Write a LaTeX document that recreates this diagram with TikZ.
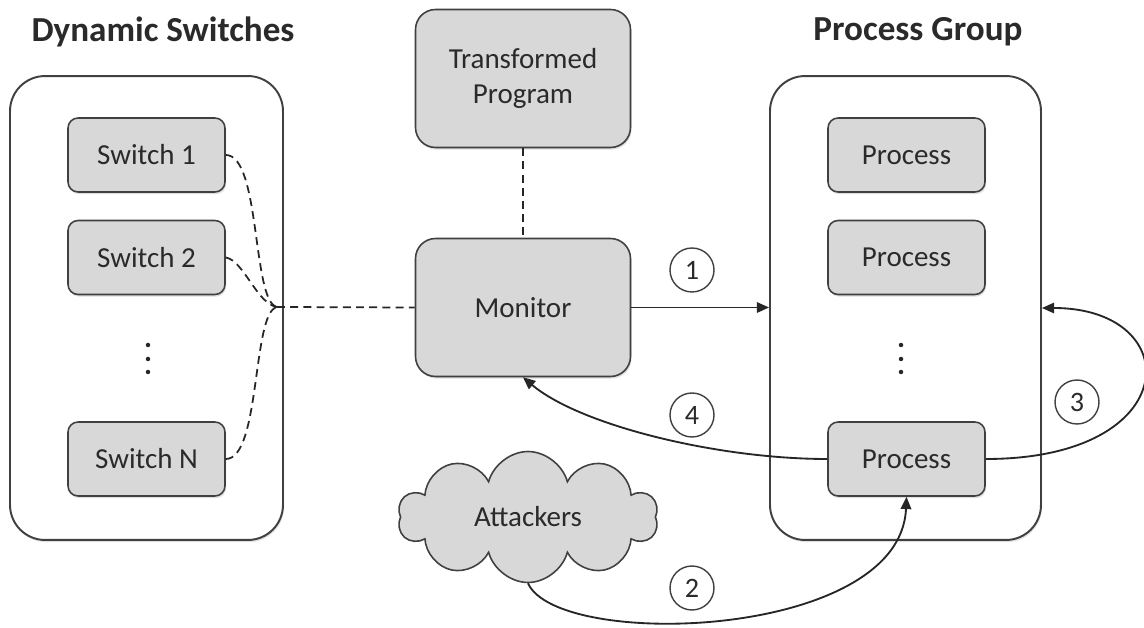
\documentclass[tikz,border=0pt]{standalone}
\usepackage{fontspec}
\setmainfont{Carlito}
\usepackage{xcolor}
\usetikzlibrary{arrows.meta,shapes.symbols,shadows}

\definecolor{liniengrau}{HTML}{404040}
\definecolor{kastengrau}{HTML}{D8D8D8}
\definecolor{textgrau}{HTML}{2A2A2A}

\begin{document}
\begin{tikzpicture}[
  x=0.02cm, y=-0.02cm,
  schatten/.style={
    drop shadow={shadow xshift=0.6pt, shadow yshift=-1.2pt, opacity=0.25}
  },
  gruppe/.style={
    draw=liniengrau, line width=1.1pt, fill=white, rounded corners=0.7cm,
    minimum width=5.46cm, minimum height=9.28cm, schatten
  },
  kasten/.style={
    draw=liniengrau, line width=0.9pt, fill=kastengrau, rounded corners=0.2cm,
    minimum width=3.14cm, minimum height=1.48cm, text=textgrau,
    font=\fontsize{16.5}{19.5}\selectfont, schatten
  },
  gross/.style={
    kasten, rounded corners=0.4cm, minimum width=4.3cm, minimum height=2.76cm,
    align=center
  },
  wolke/.style={
    shape=cloud, cloud puffs=10, aspect=2, draw=liniengrau, line width=0.9pt,
    fill=kastengrau, minimum width=5.2cm, minimum height=2.62cm, text=textgrau,
    font=\fontsize{16.5}{19.5}\selectfont
  },
  nummer/.style={
    shape=circle, draw=liniengrau, line width=0.8pt, inner sep=0pt,
    minimum size=0.88cm, text=textgrau, font=\fontsize{16}{19}\selectfont
  },
  titel/.style={font=\fontsize{20}{24}\selectfont\bfseries, text=textgrau},
  pfeil/.style={line width=1.05pt, draw=black!85, -{Triangle[length=7pt,width=6pt]}},
  strich/.style={line width=1pt, draw=black!85, dash pattern=on 4.5pt off 3pt}
]
\useasboundingbox (0,0) rectangle (1144,628);

% titles
\draw (163, 32) node [titel] (tlinks) {Dynamic Switches};
\draw (918, 32) node [titel] (trechts) {Process Group};

% groups
\draw (146.5, 308) node [gruppe] (dyn) {};
\draw (905.5, 308) node [gruppe, minimum width=5.42cm] (pg) {};

% switches
\draw (146.5, 155) node [kasten] (sw1) {Switch 1};
\draw (146.5, 257.5) node [kasten] (sw2) {Switch 2};
\draw (146.5, 459) node [kasten] (swN) {Switch N};

% processes
\draw (906.5, 155) node [kasten] (p1) {Process};
\draw (906.5, 257.5) node [kasten] (p2) {Process};
\draw (906.5, 459) node [kasten] (pN) {Process};

\foreach \x in {148, 901}
  \foreach \y in {345, 359, 372}
    \fill [black!85] (\x, \y) circle (0.045cm);

% middle
\draw (523, 78.5) node [gross] (tp) {Transformed\\Program};
\draw (523, 307.5) node [gross] (mon) {Monitor};
\draw (528, 517) node [wolke] (att) {Attackers};

\coordinate (knick) at (277, 307);

\draw [strich] (sw1.east) .. controls +(35,0) and +(-25,-5) .. (knick);
\draw [strich] (sw2.east) .. controls +(18,3) and +(-20,-3) .. (knick);
\draw [strich] (swN.east) .. controls +(35,0) and +(-25,5) .. (knick);
\draw [strich] (knick) -- (mon.west);
\draw [strich] (tp.south) -- (mon.north);

% steps
\draw [pfeil] (mon.east) -- (mon.east -| pg.west);
\draw [pfeil] (att.south) .. controls +(30,67) and +(-6,143) .. (pN.south);
\draw [pfeil] (pN.east) .. controls +(200,0) and +(145,0) .. (pg.east);
\draw [pfeil] (pN.west) .. controls +(-110,0) and +(57,48) .. (mon.south);

\draw (692, 270) node [nummer] (n1) {1};
\draw (692, 588) node [nummer] (n2) {2};
\draw (1077, 402) node [nummer] (n3) {3};
\draw (692, 415) node [nummer] (n4) {4};
\end{tikzpicture}
\end{document}
